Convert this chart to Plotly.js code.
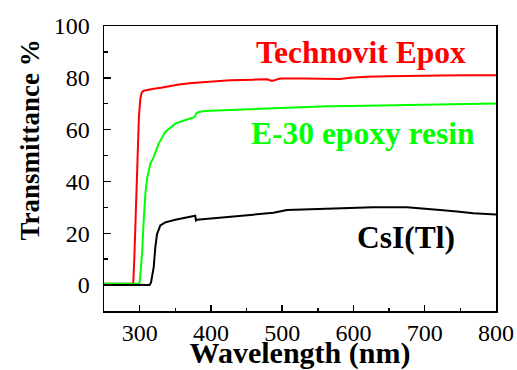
<!DOCTYPE html>
<html><head><meta charset="utf-8">
<script src="https://cdn.plot.ly/plotly-3.0.1.min.js"></script>
<style>html,body{margin:0;padding:0;background:#fff}#chart{width:517px;height:370px}</style>
</head><body><div id="chart"></div>
<script>
const redX = [250, 270, 291, 292.5, 295, 297, 299, 301, 303, 305.6, 310, 315, 320, 330, 340.7, 355, 373.5, 392, 427, 460, 478.6, 485.7, 497, 530, 558, 581.4, 595.4, 618.8, 650, 674.9, 721.6, 760, 800];
const redY = [0.5, 0.5, 0.5, 10, 30, 50, 65, 72, 74.3, 75, 75.3, 75.5, 75.8, 76.2, 76.8, 77.4, 78, 78.3, 79.1, 79.3, 79.4, 78.8, 79.7, 79.7, 79.6, 79.5, 80, 80.4, 80.6, 80.8, 80.9, 81, 81];
const greenX = [250, 280, 298.7, 300, 301, 303.4, 305.7, 308, 310.4, 312.7, 315, 319.7, 326.7, 336, 350, 365, 375.8, 378, 379, 382.8, 392, 417.8, 460, 511, 562.8, 595.4, 650, 700, 750, 800];
const greenY = [0.5, 0.5, 0.5, 1, 4, 12, 24.9, 35.2, 41, 44.2, 46.8, 49.4, 54.6, 59.1, 62.3, 63.8, 64.7, 65.2, 66.2, 66.8, 67.2, 67.5, 68, 68.4, 69, 69.1, 69.4, 69.7, 69.9, 70.1];
const blackX = [250, 290, 314, 316, 319.7, 322, 324.4, 329, 336, 350, 365, 375.8, 378, 379, 380.5, 392, 430, 487.9, 506.7, 550, 595.4, 628, 675, 700, 721.6, 745, 768.3, 800];
const blackY = [0, 0, 0, 1, 6.8, 14.6, 19.7, 23, 24.2, 25.2, 26, 26.6, 26.8, 24.9, 25.2, 25.5, 26.5, 27.9, 29, 29.4, 29.8, 30, 30, 29.6, 29, 28.4, 27.7, 27.2];
const labels = ["Technovit Epox", "E-30 epoxy resin", "CsI(Tl)"];
const labelX = [611, 613, 674];
const labelY = [89.9, 58.6, 18.3];
const colors = ["#ff0000", "#00ff00", "#000000"];
const xTicks = [300, 400, 500, 600, 700, 800];
const yTicks = [0, 20, 40, 60, 80, 100];

const font = "Liberation Serif";
const traces = [
  {x: redX, y: redY, mode: "lines", line: {color: colors[0], width: 2}},
  {x: greenX, y: greenY, mode: "lines", line: {color: colors[1], width: 2}},
  {x: blackX, y: blackY, mode: "lines", line: {color: colors[2], width: 2}}
];
const ann = labels.map((t, i) => ({
  x: labelX[i], y: labelY[i], xref: "x", yref: "y", text: "<b>" + t + "</b>",
  showarrow: false, font: {family: font, size: 31.5, color: colors[i]}
}));
ann.push({x: -0.19, y: 0.60, xref: "paper", yref: "paper", text: "<b>Transmittance %</b>",
  textangle: -90, showarrow: false, font: {family: font, size: 27, color: "#000"}, xanchor: "center", yanchor: "middle"});
const layout = {
  width: 517, height: 370,
  margin: {l: 104, r: 21, t: 26, b: 59},
  paper_bgcolor: "#fff", plot_bgcolor: "#fff",
  showlegend: false,
  xaxis: {
    range: [250, 800], tickvals: xTicks, ticktext: xTicks.map(String),
    ticks: "inside", ticklen: 6, tickwidth: 1.5, tickcolor: "#000",
    minor: {dtick: 50, tick0: 250, ticks: "inside", ticklen: 3, tickwidth: 1.5, tickcolor: "#000"},
    showline: true, linecolor: "#000", linewidth: 1.5, mirror: true,
    showgrid: false, zeroline: false,
    tickfont: {family: font, size: 24, color: "#000"},
    ticklabelstandoff: 0,
    title: {text: "<b>Wavelength (nm)</b>", font: {family: font, size: 30, color: "#000"}, standoff: 3}
  },
  yaxis: {
    range: [-10, 100], tickvals: yTicks, ticktext: yTicks.map(String),
    ticks: "inside", ticklen: 7, tickwidth: 1.5, tickcolor: "#000",
    minor: {dtick: 10, tick0: -10, ticks: "inside", ticklen: 3.5, tickwidth: 1.5, tickcolor: "#000"},
    showline: true, linecolor: "#000", linewidth: 1.5, mirror: true,
    showgrid: false, zeroline: false,
    tickfont: {family: font, size: 24, color: "#000"},
    ticklabelstandoff: 8
  },
  annotations: ann
};
Plotly.newPlot("chart", traces, layout, {displayModeBar: false, staticPlot: true});
</script></body></html>
